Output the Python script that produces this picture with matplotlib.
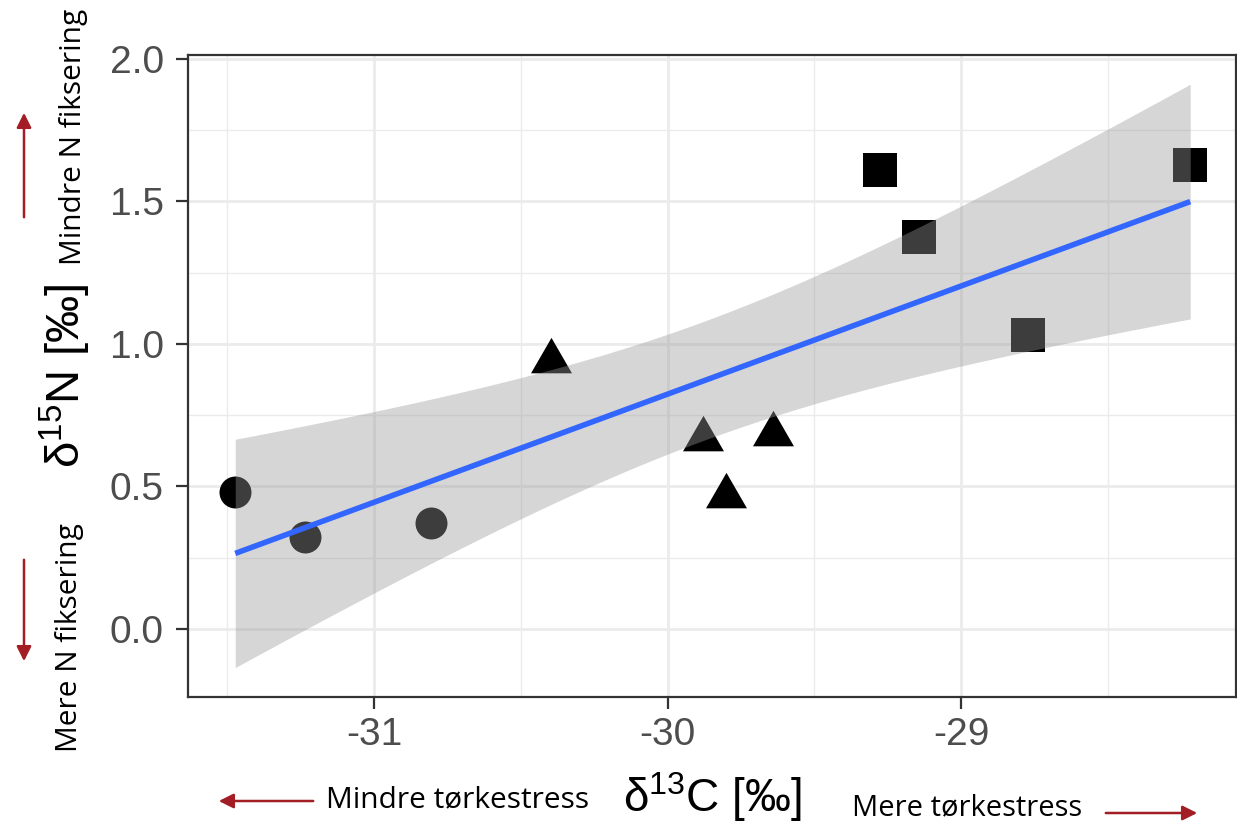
import matplotlib.pyplot as plt
import numpy as np

plt.rcParams['font.family'] = ['Liberation Sans', 'DejaVu Sans']
plt.rcParams['mathtext.default'] = 'regular'

# delta13C / delta15N per group
circ_x = [-31.473, -31.236, -30.805]
circ_y = [0.480, 0.322, 0.371]
tri_x = [-30.397, -29.880, -29.800, -29.640]
tri_y = [0.940, 0.667, 0.468, 0.684]
sq_x = [-29.277, -29.144, -28.771, -28.219]
sq_y = [1.611, 1.377, 1.030, 1.627]

x = np.array(circ_x + tri_x + sq_x)
y = np.array(circ_y + tri_y + sq_y)

# linear fit with 95% confidence band (like geom_smooth(method='lm'))
n = len(x)
b, a = np.polyfit(x, y, 1)
xs = np.linspace(x.min(), x.max(), 80)
yhat = a + b * xs
resid = y - (a + b * x)
s = np.sqrt(np.sum(resid ** 2) / (n - 2))
t = 2.2622  # t(0.975, df=9)
se = s * np.sqrt(1 / n + (xs - x.mean()) ** 2 / np.sum((x - x.mean()) ** 2))

fig = plt.figure(figsize=(12.37, 8.30), dpi=100)
ax = fig.add_axes([188 / 1237, 133 / 830, 1048 / 1237, 642 / 830])

tri = [(0, 1.1547), (-1, -0.5774), (1, -0.5774)]
ax.scatter(circ_x, circ_y, s=530, marker='o', color='black', linewidths=0, zorder=2)
ax.scatter(tri_x, tri_y, s=1160, marker=tri, color='black', linewidths=0, zorder=2)
ax.scatter(sq_x, sq_y, s=566, marker='s', color='black', linewidths=0, zorder=2)

ax.fill_between(xs, yhat - t * se, yhat + t * se, color='#999999', alpha=0.4,
                linewidth=0, zorder=3)
ax.plot(xs, yhat, color='#3366FF', lw=4, zorder=4, solid_capstyle='butt')

ax.set_xlim(-31.634, -28.063)
ax.set_ylim(-0.239, 2.014)
ax.set_xticks([-31, -30, -29])
ax.set_xticklabels(['-31', '-30', '-29'])
ax.set_yticks([0, 0.5, 1.0, 1.5, 2.0])
ax.set_yticklabels(['0.0', '0.5', '1.0', '1.5', '2.0'])
ax.set_xticks([-31.5, -30.5, -29.5, -28.5], minor=True)
ax.set_yticks([0.25, 0.75, 1.25, 1.75], minor=True)
ax.grid(which='major', color='#ebebeb', lw=2.0, zorder=0)
ax.grid(which='minor', color='#ebebeb', lw=1.0, zorder=0)
ax.set_axisbelow(True)
ax.tick_params(which='major', length=8.5, width=1.6, color='#333333',
               labelsize=28, labelcolor='#4d4d4d')
ax.tick_params(axis='y', which='major', pad=9)
ax.tick_params(axis='x', which='major', pad=6)
ax.tick_params(which='minor', length=0)
for sp in ax.spines.values():
    sp.set_color('#333333')
    sp.set_linewidth(1.6)

ax.set_ylabel(r'δ$^{15}$N [‰]', fontsize=34, labelpad=12)

# annotations outside the panel (figure pixel coordinates)
red = '#a31d24'
def px(xp, yp):
    return (xp / 1237, 1 - yp / 830)

fig.text(*px(712, 797), r'δ$^{13}$C [‰]', fontsize=33, ha='center', va='center')
fig.text(*px(458, 800), 'Mindre tørkestress', fontsize=21.5, ha='center', va='center',
         family=['Open Sans', 'DejaVu Sans'])
fig.text(*px(967, 808), 'Mere tørkestress', fontsize=21, ha='center', va='center',
         family=['Open Sans', 'DejaVu Sans'])
fig.text(*px(73, 137), 'Mindre N fiksering', fontsize=21.5, ha='center', va='center',
         rotation=90, family=['Open Sans', 'DejaVu Sans'])
fig.text(*px(70, 638), 'Mere N fiksering', fontsize=21.5, ha='center', va='center',
         rotation=90, family=['Open Sans', 'DejaVu Sans'])

arrows = [((24, 220), (24, 110)), ((24, 557), (24, 664)),
          ((316, 801), (216, 801)), ((1103, 813), (1200, 813))]
for tail, head in arrows:
    fig.add_artist(plt.matplotlib.patches.FancyArrowPatch(
        px(*tail), px(*head), transform=fig.transFigure, arrowstyle='-|>',
        mutation_scale=22, color=red, lw=1.8))

fig.savefig('out.png', dpi=100)
